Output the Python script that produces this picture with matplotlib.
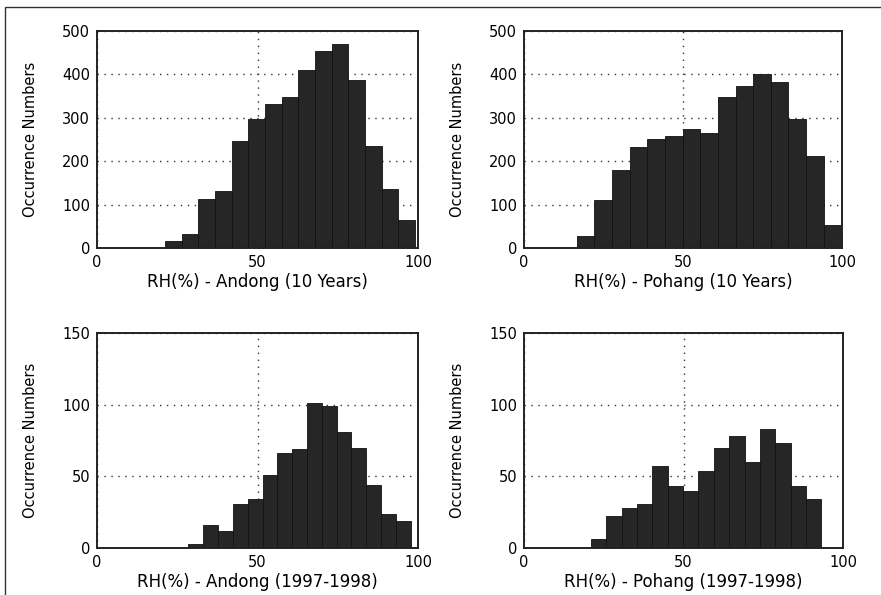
import numpy as np
import matplotlib
matplotlib.use('Agg')
import matplotlib.pyplot as plt
from matplotlib.patches import Rectangle

# bin range (lo, hi) of the 15 bins and bar heights for each panel
andong10_range = (21.2, 99.1)
andong10_counts = [15, 33, 112, 131, 246, 298, 331, 348, 409, 455, 471, 387, 235, 136, 65]

pohang10_range = (16.6, 99.8)
pohang10_counts = [27, 111, 179, 232, 251, 258, 274, 264, 347, 374, 401, 382, 298, 211, 52]

andong98_range = (28.5, 97.7)
andong98_counts = [3, 16, 12, 31, 34, 51, 66, 69, 101, 99, 81, 70, 44, 24, 19]

pohang98_range = (21.0, 93.2)
pohang98_counts = [6, 22, 28, 31, 57, 43, 40, 54, 70, 78, 60, 83, 73, 43, 34]

xlabels = ['RH(%) - Andong (10 Years)', 'RH(%) - Pohang (10 Years)',
           'RH(%) - Andong (1997-1998)', 'RH(%) - Pohang (1997-1998)']
ymax = [500, 500, 150, 150]
yticks = [[0, 100, 200, 300, 400, 500], [0, 100, 200, 300, 400, 500],
          [0, 50, 100, 150], [0, 50, 100, 150]]

panels = [(andong10_range, andong10_counts), (pohang10_range, pohang10_counts),
          (andong98_range, andong98_counts), (pohang98_range, pohang98_counts)]

W, H = 881, 595
# axes boxes in pixels: left, right, top, bottom
boxes = [(97, 418, 31, 248), (524, 842, 31, 248),
         (97, 418, 333, 548), (524, 843, 333, 548)]

fig = plt.figure(figsize=(W / 100, H / 100), dpi=100)
fig.patches.append(Rectangle((5 / W, -0.1), 1.2, (H - 7) / H + 0.1, transform=fig.transFigure,
                             fill=False, edgecolor='#333333', linewidth=1.0))

for i, ((rng, counts), (l, r, t, b)) in enumerate(zip(panels, boxes)):
    ax = fig.add_axes([l / W, 1 - b / H, (r - l) / W, (b - t) / H])
    edges = np.linspace(rng[0], rng[1], len(counts) + 1)
    ax.bar(edges[:-1], counts, width=np.diff(edges), align='edge',
           color='#262626', edgecolor='#111111', linewidth=0.6, zorder=2)
    ax.set_xlim(0, 100)
    ax.set_ylim(0, ymax[i])
    ax.set_xticks([0, 50, 100])
    ax.set_yticks(yticks[i])
    ax.grid(True, linestyle=(0, (1, 4)), color='#333333', linewidth=1.0, zorder=1)
    ax.set_axisbelow(True)
    ax.tick_params(length=0, labelsize=10.5, pad=5)
    for s in ax.spines.values():
        s.set_linewidth(1.4)
        s.set_color('#222222')
    ax.set_xlabel(xlabels[i], fontsize=12, labelpad=2)
    ax.set_ylabel('Occurrence Numbers', fontsize=10.5)
    ax.yaxis.set_label_coords(-0.185, 0.5)

fig.savefig('out.png', dpi=100)
